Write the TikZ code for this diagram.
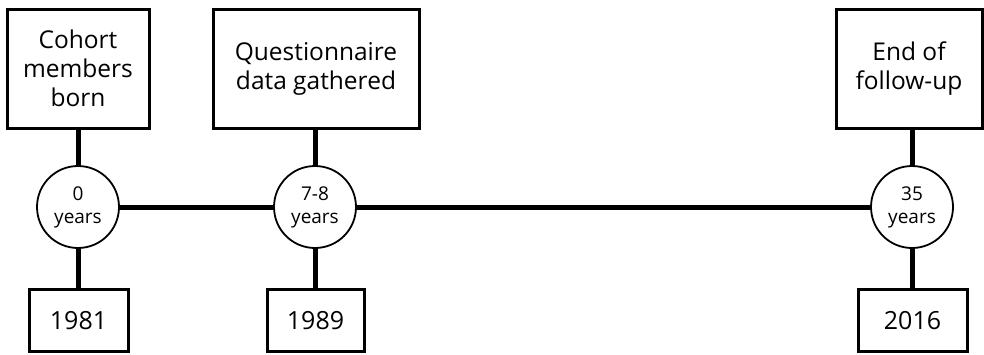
\documentclass[tikz,border=0pt]{standalone}
\usepackage{fontspec}
\setmainfont{Open Sans}
\begin{document}
\begin{tikzpicture}[x=1pt,y=-1pt,
  event/.style={draw=black,line width=3pt,fill=white,align=center,inner sep=0pt,
    font=\fontsize{24.5}{29}\selectfont},
  agecircle/.style={circle,draw=black,line width=1.8pt,fill=white,minimum size=82pt,
    inner sep=0pt,align=center,font=\fontsize{19}{23}\selectfont},
  yearbox/.style={draw=black,line width=3pt,fill=white,inner sep=0pt,
    font=\fontsize{25}{28}\selectfont},
  link/.style={line width=5pt,black}]
\useasboundingbox (0,0) rectangle (984,354);
% top event boxes
\node[event,minimum width=142pt,minimum height=119pt] (e1) at (78,68.5) {Cohort\\members\\born};
\node[event,minimum width=206pt,minimum height=119pt] (e2) at (316,68.5) {Questionnaire\\data gathered};
\node[event,minimum width=146pt,minimum height=119pt] (e3) at (909,68.5) {End of\\follow-up};
% year boxes
\node[yearbox,minimum width=99pt,minimum height=62pt] (y1) at (78.5,320.5) {1981};
\node[yearbox,minimum width=97pt,minimum height=62pt] (y2) at (315.5,320.5) {1989};
\node[yearbox,minimum width=109pt,minimum height=62pt] (y3) at (912.5,320.5) {2016};
% age circles
\node[agecircle] (a1) at (78,207) {0\\years};
\node[agecircle] (a2) at (315,207) {7-8\\years};
\node[agecircle] (a3) at (912,207) {35\\years};
% timeline and stems
\draw[link] (a1.east) -- (a2.west);
\draw[link] (a2.east) -- (a3.west);
\draw[link] (e1.south -| a1) -- (a1.north);
\draw[link] (a1.south) -- (y1.north -| a1);
\draw[link] (e2.south -| a2) -- (a2.north);
\draw[link] (a2.south) -- (y2.north -| a2);
\draw[link] (e3.south -| a3) -- (a3.north);
\draw[link] (a3.south) -- (y3.north -| a3);
\end{tikzpicture}
\end{document}
